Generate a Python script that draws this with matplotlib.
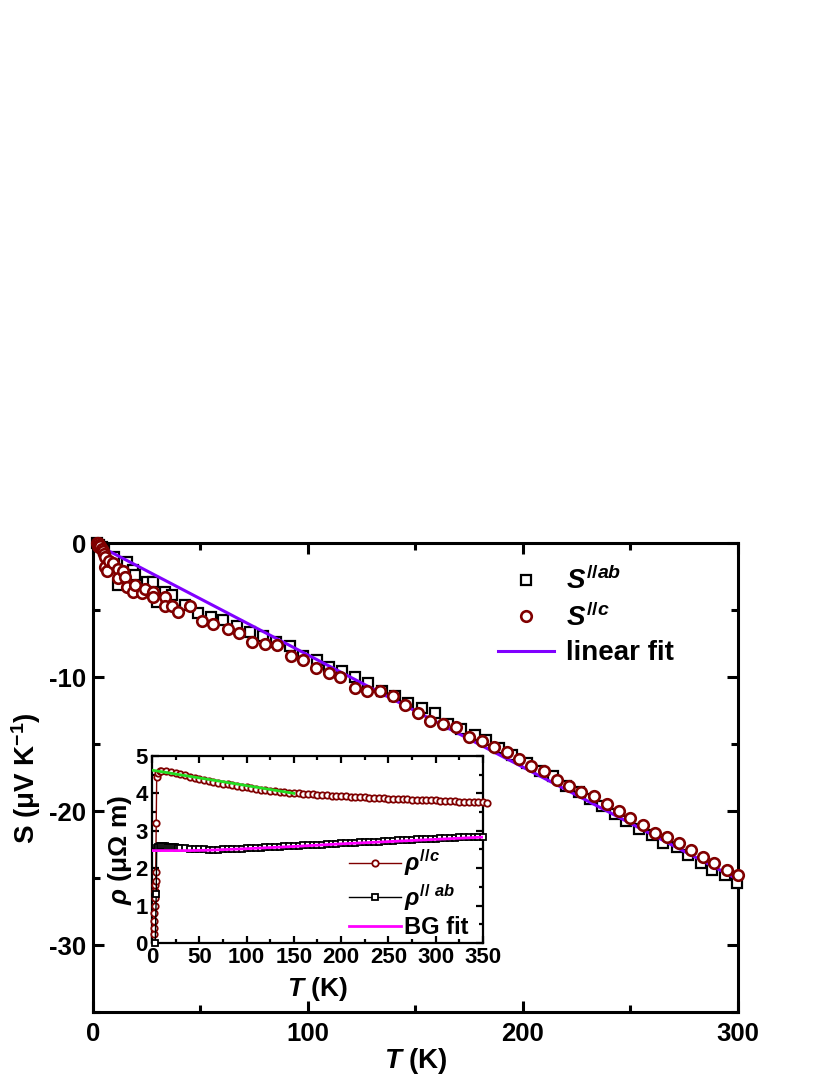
import matplotlib
matplotlib.use('Agg')
import matplotlib.pyplot as plt
import numpy as np
from matplotlib.ticker import MultipleLocator

plt.rcParams['font.family'] = ['Liberation Sans', 'DejaVu Sans']
plt.rcParams['font.weight'] = 'bold'
plt.rcParams['axes.unicode_minus'] = False
plt.rcParams['mathtext.fontset'] = 'custom'
plt.rcParams['mathtext.rm'] = 'Liberation Sans:bold'
plt.rcParams['mathtext.it'] = 'Liberation Sans:bold:italic'
plt.rcParams['mathtext.bf'] = 'Liberation Sans:bold'

# ---- main panel: Seebeck coefficient ----
T_ab = [2, 3, 4, 5, 10, 11.6, 16, 18.6, 19.5, 25, 28, 30, 33.5, 37, 43, 49, 55, 60.5, 67, 73,
        79, 85, 91.6, 97.7, 104, 110, 116, 122, 128, 134.5, 140.5, 146.5, 153, 159, 165, 171,
        177.7, 183, 189, 195, 202, 208, 214, 220, 226, 231, 237, 243, 248, 254, 260, 265,
        271.6, 277, 283, 288, 294, 299.5]
S_ab = [0, -0.1, -0.3, -0.5, -1.0, -3.1, -1.4, -2.0, -2.4, -2.9, -2.9, -4.4, -3.6, -3.85, -4.6,
        -5.2, -5.5, -5.7, -6.2, -6.6, -6.9, -7.4, -7.7, -8.4, -8.7, -9.2, -9.5, -10.0, -10.4,
        -11.0, -11.4, -11.9, -12.3, -12.7, -13.5, -13.9, -14.3, -14.7, -15.3, -15.8, -16.4,
        -17.0, -17.4, -18.1, -18.6, -19.1, -19.6, -20.2, -20.7, -21.3, -21.8, -22.4, -22.7,
        -23.3, -23.9, -24.4, -24.8, -25.4]

T_c = [2, 2.3, 2.5, 2.8, 3, 3.5, 4, 4.5, 5, 5.6, 5.6, 6.5, 7.5, 9.3, 11.6, 11.6, 14, 15, 16,
       18.6, 19.5, 23, 24, 28, 28, 33.5, 33.5, 37, 39.5, 45, 50.5, 56, 63, 68, 74, 80, 85.6,
       92, 97.7, 103.7, 110, 115, 121.7, 127.4, 133.5, 139.5, 145, 151, 157, 163, 169, 175,
       181, 186.5, 192.5, 198, 204, 210, 216, 221.5, 227, 233, 239, 244.7, 250, 256, 261.5,
       267, 272.6, 278, 283.7, 289, 295, 300]
S_c = [0, -0.2, 0, -0.3, -0.1, -0.2, -0.4, -0.6, -0.8, -1.0, -1.8, -2.1, -1.3, -1.5, -1.9, -2.6,
       -2.1, -2.5, -3.3, -3.6, -3.1, -3.7, -3.4, -3.6, -4.0, -4.0, -4.7, -4.7, -5.1, -4.7,
       -5.8, -6.0, -6.4, -6.7, -7.4, -7.5, -7.6, -8.4, -8.7, -9.3, -9.7, -10.0, -10.8, -11.0,
       -11.0, -11.4, -12.1, -12.7, -13.3, -13.5, -13.7, -14.5, -14.8, -15.2, -15.6, -16.1,
       -16.6, -17.0, -17.7, -18.1, -18.6, -18.9, -19.5, -20.0, -20.5, -21.0, -21.6, -21.9,
       -22.4, -22.9, -23.4, -23.9, -24.4, -24.8]

# linear fit S = a + b*T
fit_a = 0.043
fit_b = -0.0838
fit_range = [2, 300]

# ---- inset: resistivity ----
T_rc = [2.0, 2.2, 2.4, 2.6, 2.8, 3.0, 3.2, 3.5, 3.8, 4.0, 4.5, 5.0, 6, 8, 10, 15, 20, 25, 30,
        35, 40, 45, 50, 55, 60, 65, 70, 75, 80, 85, 90, 95, 100, 105, 110, 115, 120, 125,
        130, 135, 140, 145, 150, 155, 160, 165, 170, 175, 180, 185, 190, 195, 200, 205, 210,
        215, 220, 225, 230, 235, 240, 245, 250, 255, 260, 265, 270, 275, 280, 285, 290, 295,
        300, 305, 310, 315, 320, 325, 330, 335, 340, 345, 350, 354]
rho_c = [0.25, 0.4, 0.6, 0.8, 1.0, 1.2, 1.4, 1.55, 1.65, 1.9, 3.2, 4.45, 4.55, 4.6, 4.6, 4.6,
         4.57, 4.54, 4.51, 4.48, 4.45, 4.42, 4.39, 4.36, 4.33, 4.30, 4.28, 4.26, 4.24, 4.22,
         4.20, 4.18, 4.16, 4.14, 4.12, 4.10, 4.08, 4.06, 4.05, 4.04, 4.03, 4.02, 4.01, 4.00,
         3.99, 3.98, 3.97, 3.96, 3.95, 3.95, 3.94, 3.93, 3.92, 3.92, 3.91, 3.90, 3.90, 3.89,
         3.88, 3.88, 3.87, 3.87, 3.86, 3.85, 3.85, 3.84, 3.84, 3.83, 3.83, 3.82, 3.82, 3.81,
         3.81, 3.80, 3.80, 3.79, 3.79, 3.78, 3.78, 3.77, 3.77, 3.76, 3.76, 3.75]

T_rab = [3.5, 4.5, 5, 6, 8, 10, 12, 14, 16, 18, 20, 22, 24, 26, 28, 30, 35, 40, 45, 50, 55, 60,
         65, 70, 75, 80, 85, 90, 95, 100, 105, 110, 115, 120, 125, 130, 135, 140, 145, 150,
         155, 160, 165, 170, 175, 180, 185, 190, 195, 200, 205, 210, 215, 220, 225, 230, 235,
         240, 245, 250, 255, 260, 265, 270, 275, 280, 285, 290, 295, 300, 305, 310, 315, 320,
         325, 330, 335, 340, 345, 350]
rho_ab = [0.0, 1.32, 2.55, 2.57, 2.58, 2.58, 2.58, 2.58, 2.57, 2.57, 2.57, 2.56, 2.56, 2.55,
          2.55, 2.54, 2.53, 2.52, 2.51, 2.50, 2.50, 2.49, 2.49, 2.49, 2.50, 2.50, 2.51, 2.51,
          2.52, 2.53, 2.54, 2.54, 2.55, 2.56, 2.56, 2.57, 2.57, 2.58, 2.59, 2.59, 2.60, 2.61,
          2.61, 2.62, 2.63, 2.63, 2.64, 2.65, 2.65, 2.66, 2.67, 2.67, 2.68, 2.69, 2.69, 2.70,
          2.71, 2.71, 2.72, 2.73, 2.73, 2.74, 2.75, 2.75, 2.76, 2.77, 2.77, 2.78, 2.79, 2.79,
          2.80, 2.80, 2.81, 2.81, 2.82, 2.82, 2.83, 2.83, 2.84, 2.84]

T_bg = [0, 20, 40, 60, 80, 100, 150, 200, 250, 300, 350]
rho_bg = [2.47, 2.47, 2.47, 2.48, 2.50, 2.52, 2.58, 2.65, 2.71, 2.77, 2.83]

T_lin = [0, 150]
rho_lin = [4.62, 4.0]

RED = '#800000'
PURPLE = '#8000FF'


def style_axes(ax, major_len, minor_len, width, labelsize):
    for sp in ax.spines.values():
        sp.set_linewidth(width)
    ax.tick_params(which='both', direction='in', top=True, right=True, width=width,
                   labelsize=labelsize)
    ax.tick_params(which='major', length=major_len)
    ax.tick_params(which='minor', length=minor_len)
    for lab in ax.get_xticklabels() + ax.get_yticklabels():
        lab.set_fontweight('bold')


fig = plt.figure(figsize=(8.3, 10.75), dpi=100)
ax = fig.add_axes([0.112, 0.0586, 0.777, 0.436])

ax.plot(T_ab, S_ab, ls='none', marker='s', ms=6.6, mfc='white', mec='black', mew=1.6,
        label='$S^{//ab}$', clip_on=False, zorder=3)
T_fit = np.array(fit_range)
ax.plot(T_fit, fit_a + fit_b * T_fit, color=PURPLE, lw=2.2, zorder=4)
ax.plot(T_c, S_c, ls='none', marker='o', ms=7.6, mfc='white', mec=RED, mew=1.9,
        label='$S^{//c}$', clip_on=False, zorder=5)
# legend entry for the fit
ax.plot([], [], color=PURPLE, lw=2.2, label='linear fit')

ax.set_xlim(0, 300)
ax.set_ylim(-35, 0)
ax.xaxis.set_major_locator(MultipleLocator(100))
ax.xaxis.set_minor_locator(MultipleLocator(50))
ax.yaxis.set_major_locator(MultipleLocator(10))
ax.yaxis.set_minor_locator(MultipleLocator(5))
style_axes(ax, 8, 5, 2.2, 18.5)
ax.tick_params(axis='x', pad=7)
ax.tick_params(axis='y', pad=5)
ax.set_xlabel('$T$ (K)', fontsize=20, fontweight='bold', labelpad=0)
ax.set_ylabel('S (μV K$^{-1}$)', fontsize=20, fontweight='bold', labelpad=4)

ax.legend(loc='upper left', bbox_to_anchor=(0.628, 0.95), frameon=False, fontsize=20,
          handlelength=2.0, handletextpad=0.45, labelspacing=0.3, borderpad=0,
          borderaxespad=0)

# ---- inset ----
axi = fig.add_axes([0.1831, 0.1228, 0.3988, 0.1740])
axi.plot(T_rc, rho_c, color=RED, lw=1.0, marker='o', ms=4.6, mfc='white', mec=RED,
         mew=1.3, label='$\\rho^{//c}$', clip_on=False, zorder=3)
axi.plot(T_lin, rho_lin, color='#22DD22', lw=2.0, zorder=4)
axi.plot(T_rab, rho_ab, color='black', lw=1.0, marker='s', ms=4.3, mfc='white', mec='black',
         mew=1.3, label='$\\rho^{//\\ ab}$', clip_on=False, zorder=3)
axi.plot(T_bg, rho_bg, color='#FF00FF', lw=2.0, label='BG fit', zorder=4)

axi.set_xlim(0, 350)
axi.set_ylim(0, 5)
axi.xaxis.set_major_locator(MultipleLocator(50))
axi.xaxis.set_minor_locator(MultipleLocator(25))
axi.yaxis.set_major_locator(MultipleLocator(1))
axi.yaxis.set_minor_locator(MultipleLocator(0.5))
style_axes(axi, 5, 3, 1.6, 16)
axi.tick_params(pad=3)
axi.set_xlabel('$T$ (K)', fontsize=19, fontweight='bold', labelpad=5)
axi.set_ylabel('$\\rho$ (μΩ m)', fontsize=19, fontweight='bold', labelpad=1)

axi.legend(loc='lower left', bbox_to_anchor=(0.595, 0.02), frameon=False, fontsize=17,
           handlelength=2.2, handletextpad=0.15, labelspacing=0.15, borderpad=0,
           borderaxespad=0)

fig.savefig('out.png', dpi=100)
